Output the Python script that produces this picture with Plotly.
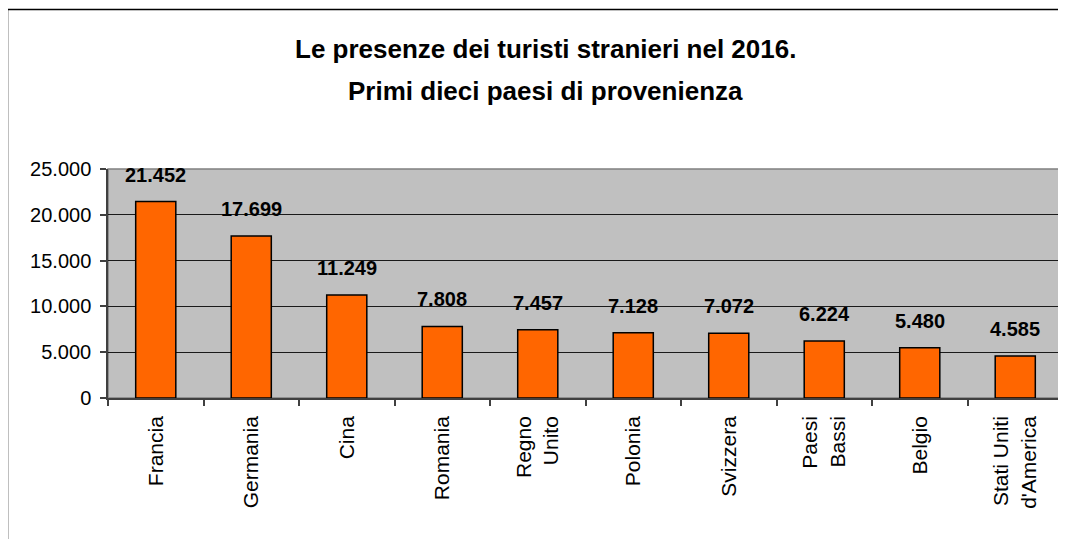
import plotly.graph_objects as go

categories = ["Francia", "Germania", "Cina", "Romania", "Regno<br>Unito", "Polonia",
              "Svizzera", "Paesi<br>Bassi", "Belgio", "Stati Uniti<br>d'America"]
values = [21452, 17699, 11249, 7808, 7457, 7128, 7072, 6224, 5480, 4585]
value_labels = ["21.452", "17.699", "11.249", "7.808", "7.457", "7.128", "7.072", "6.224", "5.480", "4.585"]
title_lines = ["Le presenze dei turisti stranieri nel 2016.", "Primi dieci paesi di provenienza"]
y_ticks = [0, 5000, 10000, 15000, 20000, 25000]
y_tick_text = ["0", "5.000", "10.000", "15.000", "20.000", "25.000"]

FONT = "Liberation Sans, Arial, sans-serif"

# the page body has an 8px margin: lay the figure out in page coords shifted by 8px
OFF = 8
W, H = 1066 - OFF, 547 - 2 * OFF
L, T = 108 - OFF, 169 - OFF
R = W - (1063 - OFF)
B = H - (398 - OFF)
pw, ph = W - L - R, H - T - B


def px_to_paper_x(px):
    return (px - OFF - L) / pw


def px_to_paper_y(py):
    return (H - B - (py - OFF)) / ph


fig = go.Figure()
fig.add_trace(go.Bar(
    x=categories, y=values,
    marker=dict(color="#FF6600", line=dict(color="#000000", width=1.5)),
    hoverinfo="skip",
))

annotations = []
for c, v, t in zip(categories, values, value_labels):
    annotations.append(dict(x=c, y=v, xref="x", yref="y", text="<b>" + t + "</b>",
                            showarrow=False, yanchor="bottom", yshift=14,
                            font=dict(family=FONT, size=20, color="#000000")))

for line, cy in zip(title_lines, [49, 91]):
    annotations.append(dict(x=px_to_paper_x(545), y=px_to_paper_y(cy), xref="paper", yref="paper",
                            text="<b>" + line + "</b>", showarrow=False,
                            xanchor="center", yanchor="middle",
                            font=dict(family=FONT, size=26, color="#000000")))

fig.update_layout(
    width=W, height=H,
    margin=dict(l=L, r=R, t=T, b=B, pad=0),
    paper_bgcolor="#FFFFFF",
    plot_bgcolor="#C0C0C0",
    bargap=0.58,
    showlegend=False,
    annotations=annotations,
    font=dict(family=FONT, color="#000000"),
    shapes=[
        dict(type="rect", xref="paper", yref="paper", x0=0, x1=1, y0=0, y1=1,
             line=dict(color="#808080", width=1.5), layer="below"),
        dict(type="rect", xref="paper", yref="paper",
             x0=px_to_paper_x(7.5), x1=px_to_paper_x(1090),
             y0=px_to_paper_y(580), y1=px_to_paper_y(9.5),
             line=dict(color="#000000", width=1.5)),
    ],
)

fig.update_xaxes(
    type="category",
    tickangle=-90,
    ticks="outside", ticklen=6, tickcolor="#404040", tickwidth=1.5,
    tickson="boundaries",
    showline=True, linecolor="#404040", linewidth=1.5,
    showgrid=False,
    tickfont=dict(family=FONT, size=21, color="#000000"),
    ticklabelstandoff=8,
)
fig.update_yaxes(
    range=[0, 25000],
    tickvals=y_ticks, ticktext=y_tick_text,
    ticks="outside", ticklen=6, tickcolor="#404040", tickwidth=1.5,
    showline=True, linecolor="#404040", linewidth=1.5,
    showgrid=True, gridcolor="#1a1a1a", gridwidth=1,
    zeroline=False,
    tickfont=dict(family=FONT, size=20, color="#000000"),
    ticklabelstandoff=5,
)

fig.write_html("out.html")
